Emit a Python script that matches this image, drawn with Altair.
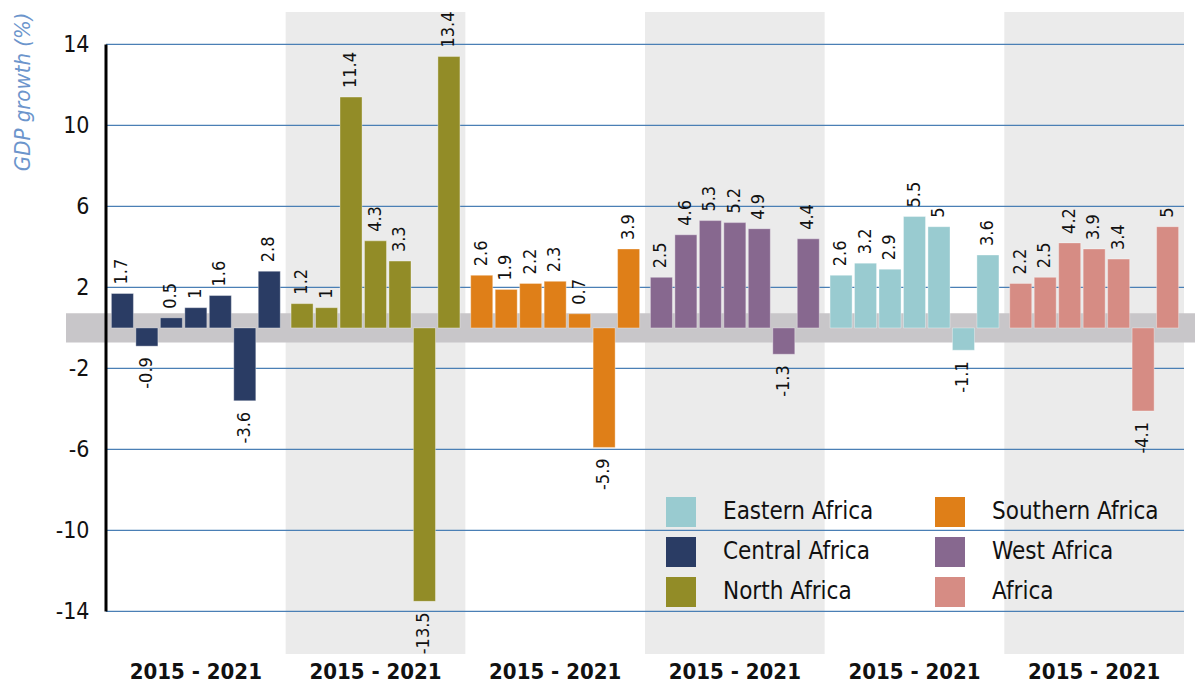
import altair as alt
import pandas as pd

regions = ["Central Africa", "North Africa", "Southern Africa", "West Africa", "Eastern Africa", "Africa"]
years = ["2015", "2016", "2017", "2018", "2019", "2020", "2021"]
central = [1.7, -0.9, 0.5, 1, 1.6, -3.6, 2.8]
north = [1.2, 1, 11.4, 4.3, 3.3, -13.5, 13.4]
southern = [2.6, 1.9, 2.2, 2.3, 0.7, -5.9, 3.9]
west = [2.5, 4.6, 5.3, 5.2, 4.9, -1.3, 4.4]
eastern = [2.6, 3.2, 2.9, 5.5, 5, -1.1, 3.6]
africa = [2.2, 2.5, 4.2, 3.9, 3.4, -4.1, 5]
series = [central, north, southern, west, eastern, africa]
shaded_groups = ["North Africa", "West Africa", "Africa"]
y_ticks = [-14, -10, -6, -2, 2, 6, 10, 14]
legend_order = ["Eastern Africa", "Central Africa", "North Africa", "Southern Africa", "West Africa", "Africa"]
legend_colors = ["#99cbd0", "#2a3c64", "#928c27", "#df7f18", "#87688f", "#d68c84"]

def fmt(v):
    return str(int(v)) if float(v).is_integer() else str(v)

rows = []
for r, vals in zip(regions, series):
    for y, v in zip(years, vals):
        rows.append({"region": r, "year": y, "value": v, "label": fmt(v)})
df = pd.DataFrame(rows)

FONT = "DejaVu Sans Condensed, Liberation Sans, sans-serif"
W, H = 1078, 642

xscale = alt.Scale(domain=regions, paddingInner=0, paddingOuter=0)
yscale = alt.Scale(domain=[-16.1, 15.6], nice=False, zero=False)
xoff = alt.XOffset("year:N", scale=alt.Scale(paddingInner=0.1, paddingOuter=0.22))

shade = alt.Chart(pd.DataFrame({"region": shaded_groups})).mark_rect(color="#ebebeb").encode(
    x=alt.X("region:N", scale=xscale, sort=regions,
            axis=alt.Axis(title=None, labelExpr="'2015 - 2021'", ticks=False, domain=False,
                          labelFontSize=22, labelFontWeight="bold", labelFont=FONT,
                          labelColor="#111111", labelPadding=7, labelAngle=0)),
    y=alt.value(0), y2=alt.value(H),
)

grid = alt.Chart(pd.DataFrame({"t": y_ticks})).mark_rule(color="#4a7fb5", strokeWidth=1.3).encode(
    y=alt.Y("t:Q", scale=yscale,
            axis=alt.Axis(values=y_ticks, title="GDP growth (%)", ticks=False, domain=False, grid=False,
                          labelExpr="'' + datum.value",
                          labelFontSize=23, labelFont=FONT, labelColor="#111111", labelPadding=17,
                          titleFont=FONT, titleFontSize=22, titleFontStyle="italic", titleFontWeight="normal",
                          titleColor="#6c95cc", titleAnchor="end", titleX=-84, titleY=0,
                          titleBaseline="middle", titleAlign="right")),
)

band = alt.Chart(pd.DataFrame({"lo": [-0.72], "hi": [0.72]})).mark_rect(color="#c8c6c9").encode(
    x=alt.value(-40), x2=alt.value(W + 20),
    y=alt.Y("lo:Q", scale=yscale), y2="hi:Q",
)

axisline = alt.Chart(pd.DataFrame({"a": [-14], "b": [14]})).mark_rule(color="black", strokeWidth=3).encode(
    x=alt.value(0), y=alt.Y("a:Q", scale=yscale), y2="b:Q",
)

bars = alt.Chart(df).mark_bar(stroke="white", strokeOpacity=0.35, strokeWidth=1).encode(
    x=alt.X("region:N", scale=xscale, sort=regions),
    xOffset=xoff,
    y=alt.Y("value:Q", scale=yscale),
    y2=alt.datum(0),
    color=alt.Color("region:N", scale=alt.Scale(domain=legend_order, range=legend_colors),
                    legend=alt.Legend(title=None, orient="none", legendX=560, legendY=485, columns=2,
                                      symbolType="square", symbolSize=900, symbolStrokeWidth=0,
                                      symbolOpacity=1, labelFontSize=24, labelFont=FONT,
                                      labelColor="#111111", labelOffset=27, columnPadding=61,
                                      rowPadding=10, padding=0, labelLimit=400)),
)

pos = alt.Chart(df).transform_filter("datum.value >= 0").mark_text(
    angle=270, align="left", baseline="middle", dx=9, fontSize=18, font=FONT, color="#111111"
).encode(
    x=alt.X("region:N", scale=xscale, sort=regions), xOffset=xoff,
    y=alt.Y("value:Q", scale=yscale), text="label:N",
)
neg = alt.Chart(df).transform_filter("datum.value < 0").mark_text(
    angle=270, align="right", baseline="middle", dx=-11, fontSize=18, font=FONT, color="#111111"
).encode(
    x=alt.X("region:N", scale=xscale, sort=regions), xOffset=xoff,
    y=alt.Y("value:Q", scale=yscale), text="label:N",
)

chart = alt.layer(shade, grid, band, bars, axisline, pos, neg).properties(
    width=W, height=H,
    autosize=alt.AutoSizeParams(type="none"),
    padding={"left": 98, "top": 4, "right": 11, "bottom": 30},
).configure_view(stroke=None)

chart.save("out.html", embed_options={"renderer": "svg", "actions": False})
